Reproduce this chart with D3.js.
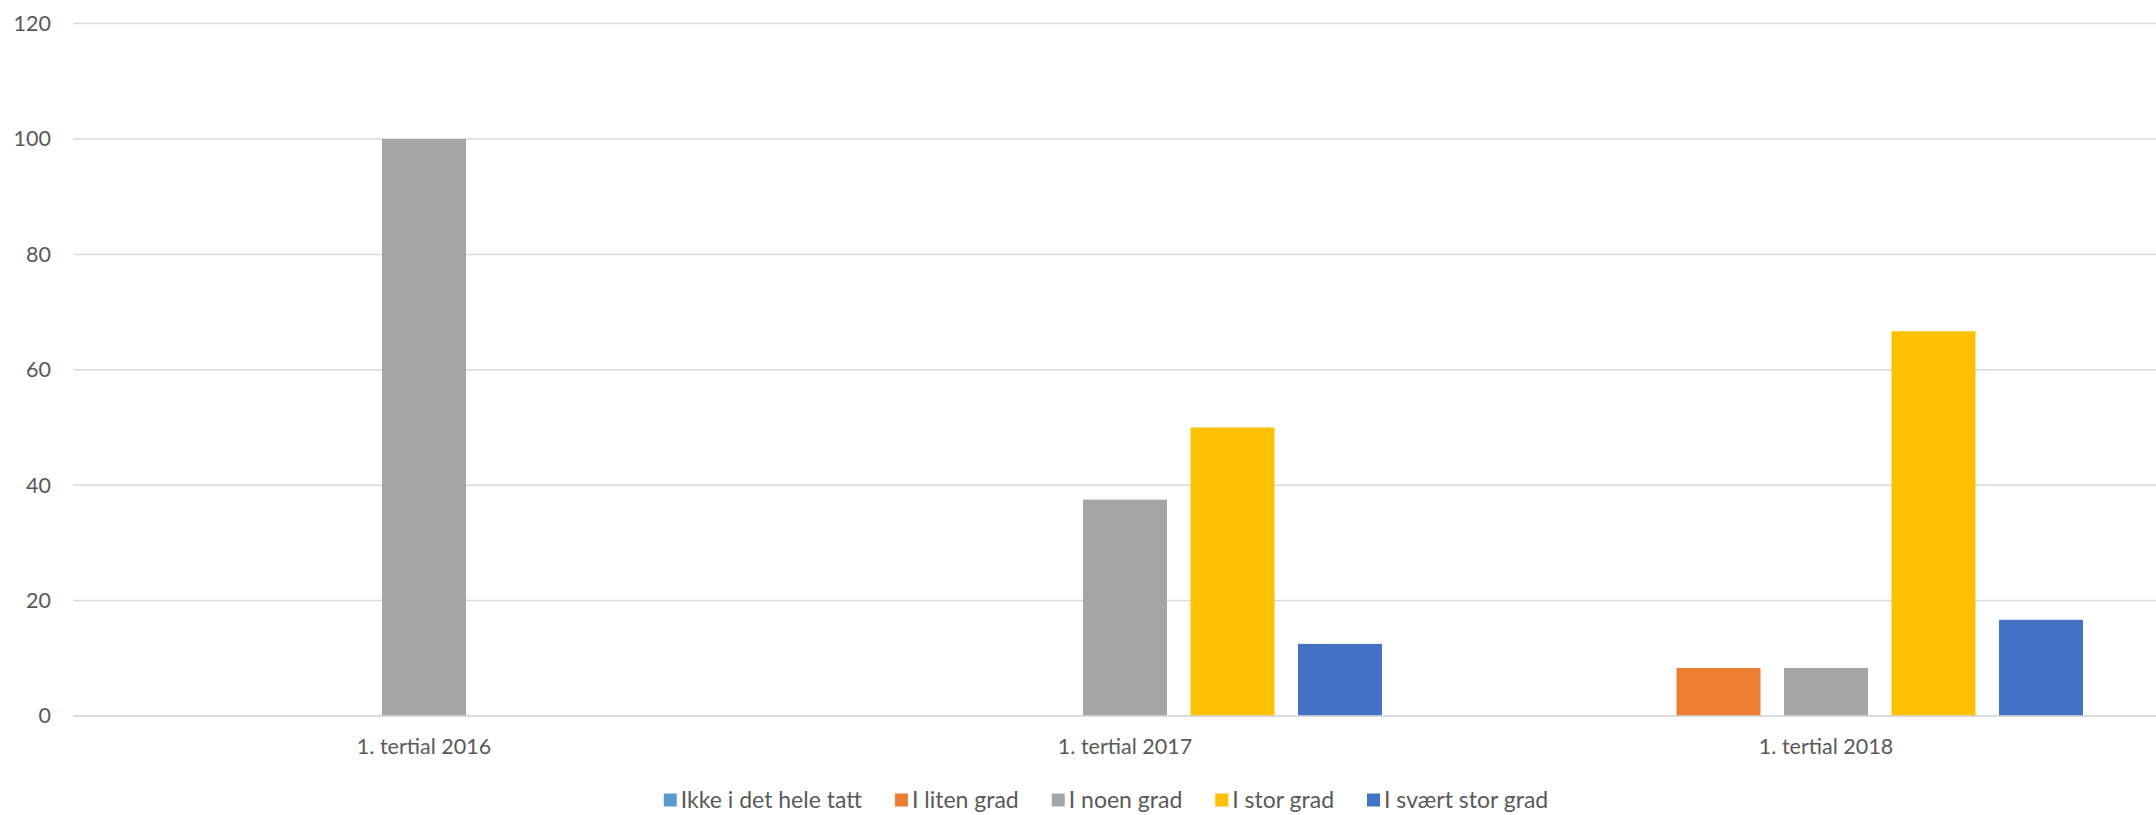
<!DOCTYPE html>
<html>
<head>
<meta charset="utf-8">
<script src="https://cdn.jsdelivr.net/npm/d3@7"></script>
<style>
html,body{margin:0;padding:0;background:#fff;}
svg{display:block;font-family:Lato, "Open Sans", sans-serif;}
</style>
</head>
<body>
<svg id="chart" width="2156" height="815"></svg>
<script>
const categories = ["1. tertial 2016", "1. tertial 2017", "1. tertial 2018"];
const seriesNames = ["Ikke i det hele tatt", "I liten grad", "I noen grad", "I stor grad", "I svært stor grad"];
const seriesColors = ["#5B9BD5", "#ED7D31", "#A5A5A5", "#FFC000", "#4472C4"];
const ikkeIDetHeleTatt = [0, 0, 0];
const iLitenGrad = [0, 0, 8.33];
const iNoenGrad = [100, 37.5, 8.33];
const iStorGrad = [0, 50, 66.67];
const iSvaertStorGrad = [0, 12.5, 16.67];
const yTicks = [0, 20, 40, 60, 80, 100, 120];

const seriesValues = [ikkeIDetHeleTatt, iLitenGrad, iNoenGrad, iStorGrad, iSvaertStorGrad];

const svg = d3.select("#chart");
const W = 2156;
const plotLeft = 73.5, plotRight = 2176.5, plotTop = 23.6, plotBottom = 716;

const x0 = d3.scaleBand().domain(categories).range([plotLeft, plotRight]).padding(0);
const x1 = d3.scaleBand().domain(seriesNames).range([0, x0.bandwidth()])
  .paddingInner(0.219).paddingOuter(0.87);
const y = d3.scaleLinear().domain([0, 120]).range([plotBottom, plotTop]);

// gridlines
svg.append("g").selectAll("line").data(yTicks).join("line")
  .attr("x1", plotLeft).attr("x2", W)
  .attr("y1", d => y(d)).attr("y2", d => y(d))
  .attr("stroke", "#d9d9d9").attr("stroke-width", 1.5);

// y axis labels
const yAxis = d3.axisLeft(y).tickValues(yTicks).tickSize(0).tickPadding(0);
const gy = svg.append("g").attr("transform", "translate(51,0)").call(yAxis);
gy.select(".domain").remove();
gy.selectAll("text").attr("font-size", 21.5).attr("fill", "#595959")
  .attr("font-family", "Lato, 'Open Sans', sans-serif");

// bars
const groups = svg.append("g").selectAll("g").data(categories).join("g")
  .attr("transform", d => `translate(${x0(d)},0)`);
groups.selectAll("rect")
  .data((c, ci) => seriesNames.map((s, si) => ({s, si, v: seriesValues[si][ci]})))
  .join("rect")
  .attr("x", d => x1(d.s))
  .attr("width", x1.bandwidth())
  .attr("y", d => y(d.v))
  .attr("height", d => y(0) - y(d.v))
  .attr("fill", d => seriesColors[d.si]);

// baseline
svg.append("line").attr("x1", plotLeft).attr("x2", W)
  .attr("y1", y(0)).attr("y2", y(0))
  .attr("stroke", "#d9d9d9").attr("stroke-width", 1.5);

// x axis labels
const xAxis = d3.axisBottom(x0).tickSize(0).tickPadding(0);
const gx = svg.append("g").attr("transform", `translate(0,${y(0) + 23})`).call(xAxis);
gx.select(".domain").remove();
gx.selectAll("text").attr("font-size", 21.5).attr("fill", "#595959")
  .attr("font-family", "Lato, 'Open Sans', sans-serif");

// legend
const legend = svg.append("g");
const items = legend.selectAll("g").data(seriesNames).join("g");
items.append("rect").attr("width", 13).attr("height", 13).attr("y", -6.5)
  .attr("fill", (d, i) => seriesColors[i]);
items.append("text").attr("x", 17).attr("dy", "0.35em")
  .attr("font-size", 23).attr("fill", "#595959").text(d => d);
let offsets = [], cur = 0;
items.each(function(d) {
  const w = this.querySelector("text").getComputedTextLength() + 17;
  offsets.push(cur);
  cur += w + 33;
});
const total = cur - 33;
const startX = 1106 - total / 2;
items.attr("transform", (d, i) => `translate(${startX + offsets[i]},800)`);
</script>
</body>
</html>
